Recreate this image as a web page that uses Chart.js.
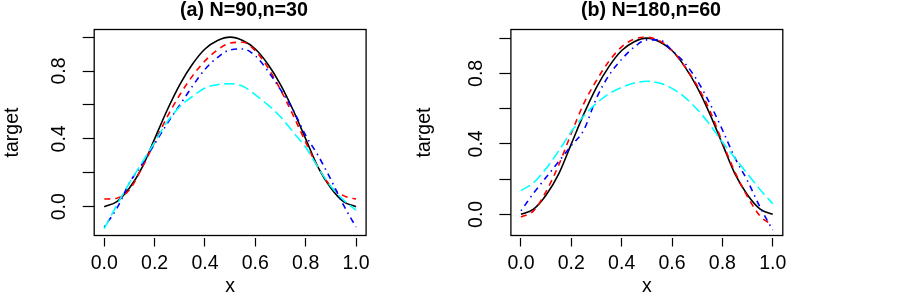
<!DOCTYPE html>
<html>
<head>
<meta charset="utf-8">
<script src="https://cdn.jsdelivr.net/npm/chart.js@4/dist/chart.umd.min.js"></script>
<style>
  html, body { margin: 0; padding: 0; background: #fff; overflow: hidden; width: 903px; height: 293px; }
  .wrap { position: absolute; top: 0; }
</style>
</head>
<body>
<div class="wrap" style="left:0px;"><canvas id="c1" width="488" height="293"></canvas></div>
<div class="wrap" style="left:400px;"><canvas id="c2" width="502" height="293"></canvas></div>
<script>
// ---------- data ----------
const xs = [0, 0.05, 0.1, 0.15, 0.2, 0.25, 0.3, 0.35, 0.4, 0.45, 0.5, 0.55, 0.6, 0.65, 0.7, 0.75, 0.8, 0.85, 0.9, 0.95, 1.0];

const titleA = '(a) N=90,n=30';
const titleB = '(b) N=180,n=60';

const targetA = [0, 0.03, 0.11, 0.23, 0.40, 0.57, 0.72, 0.84, 0.93, 0.98, 1.0, 0.98, 0.93, 0.84, 0.72, 0.57, 0.40, 0.23, 0.11, 0.03, 0];
const redA    = [0.045, 0.05, 0.10, 0.23, 0.38, 0.53, 0.66, 0.77, 0.86, 0.925, 0.965, 0.97, 0.92, 0.82, 0.69, 0.54, 0.38, 0.23, 0.12, 0.065, 0.045];
const blueA   = [-0.12, -0.01, 0.14, 0.25, 0.37, 0.49, 0.60, 0.71, 0.81, 0.88, 0.925, 0.93, 0.89, 0.80, 0.69, 0.57, 0.42, 0.30, 0.16, 0.01, -0.12];
const cyanA   = [-0.13, 0.01, 0.14, 0.26, 0.38, 0.50, 0.59, 0.65, 0.70, 0.72, 0.725, 0.71, 0.66, 0.60, 0.53, 0.44, 0.35, 0.23, 0.12, 0.04, -0.02];

const targetB = [0, 0.03, 0.11, 0.23, 0.40, 0.57, 0.72, 0.84, 0.93, 0.98, 1.0, 0.98, 0.93, 0.84, 0.72, 0.57, 0.40, 0.23, 0.11, 0.03, 0];
const redB    = [-0.015, 0.02, 0.13, 0.28, 0.46, 0.63, 0.76, 0.87, 0.95, 0.995, 1.005, 0.985, 0.93, 0.84, 0.73, 0.59, 0.41, 0.24, 0.10, -0.01, -0.06];
const blueB   = [0.02, 0.12, 0.21, 0.30, 0.39, 0.48, 0.66, 0.79, 0.88, 0.95, 0.99, 0.99, 0.93, 0.86, 0.76, 0.63, 0.48, 0.32, 0.19, 0.04, -0.09];
const cyanB   = [0.135, 0.18, 0.26, 0.36, 0.47, 0.56, 0.63, 0.685, 0.72, 0.745, 0.755, 0.745, 0.715, 0.665, 0.595, 0.51, 0.41, 0.32, 0.23, 0.14, 0.06];

const xTicks = [0, 0.2, 0.4, 0.6, 0.8, 1.0];
const xTickLabels = ['0.0', '0.2', '0.4', '0.6', '0.8', '1.0'];
const yTicks = [0, 0.2, 0.4, 0.6, 0.8, 1.0];
const yTickLabels = ['0.0', '', '0.4', '', '0.8', ''];

// ---------- styling ----------
const FAM = '"Liberation Sans", Arial, Helvetica, sans-serif';
const tickFont = { family: FAM, size: 19.5 };
const titleFont = { family: FAM, size: 19.7, weight: 'bold' };

Chart.defaults.color = '#000';
Chart.defaults.font.family = FAM;

const boxPlugin = {
  id: 'rbox',
  afterDatasetsDraw(chart) {
    const { ctx, chartArea: a } = chart;
    ctx.save();
    ctx.strokeStyle = '#000';
    ctx.lineWidth = 1.3;
    ctx.setLineDash([]);
    ctx.strokeRect(a.left, a.top, a.right - a.left, a.bottom - a.top);
    ctx.restore();
  }
};

function pts(arr) { return xs.map((x, i) => ({ x: x, y: arr[i] })); }

function line(arr, color, dash) {
  return {
    data: pts(arr),
    borderColor: color,
    borderWidth: 1.6,
    borderDash: dash,
    borderCapStyle: 'butt',
    pointRadius: 0,
    fill: false,
    cubicInterpolationMode: 'monotone'
  };
}

function makeChart(id, cfg) {
  return new Chart(document.getElementById(id), {
    type: 'line',
    data: {
      datasets: [
        line(cfg.cyan, '#00FFFF', [10.5, 4.5]),
        line(cfg.blue, '#0000FF', [1.5, 4.5, 6, 4.5]),
        line(cfg.red, '#FF0000', [6, 5]),
        line(cfg.target, '#000000', [])
      ]
    },
    options: {
      responsive: false,
      animation: false,
      devicePixelRatio: 1,
      layout: { padding: 0 },
      plugins: {
        legend: { display: false },
        tooltip: { enabled: false },
        title: {
          display: true,
          text: cfg.title,
          font: titleFont,
          color: '#000',
          padding: { top: -1.1, bottom: 6.96 }
        }
      },
      scales: {
        x: {
          type: 'linear',
          min: -0.04, max: 1.04,
          afterBuildTicks: s => { s.ticks = xTicks.map(v => ({ value: v })); },
          afterFit: s => { s.height = 57.5; },
          grid: {
            drawOnChartArea: false, drawTicks: true, tickLength: 11,
            tickColor: '#000', tickWidth: 1.2,
            tickBorderDash: [9, 30], tickBorderDashOffset: -2
          },
          border: { display: false },
          ticks: {
            font: tickFont, color: '#000', padding: 5.8,
            maxRotation: 0, minRotation: 0, autoSkip: false,
            callback: (v, i) => xTickLabels[i]
          },
          title: { display: true, text: 'x', font: tickFont, color: '#000', padding: { top: 0, bottom: -5 } }
        },
        y: {
          type: 'linear',
          position: 'left',
          min: cfg.ymin, max: cfg.ymax,
          afterBuildTicks: s => { s.ticks = yTicks.map(v => ({ value: v })); },
          afterFit: s => { s.width = cfg.yW; },
          grid: { drawOnChartArea: false, drawTicks: true, tickLength: 11.5, tickColor: '#000', tickWidth: 1.2 },
          border: { display: false },
          ticks: {
            font: tickFont, color: '#000', padding: 9.65,
            minRotation: 90, maxRotation: 90, crossAlign: 'center', autoSkip: false,
            callback: (v, i) => yTickLabels[i]
          },
          title: { display: true, text: 'target', font: tickFont, color: '#000', padding: { top: cfg.yTitlePad, bottom: 0 } }
        },
        yR: {
          type: 'linear',
          position: 'right',
          display: true,
          afterFit: s => { s.width = cfg.rightW; },
          grid: { display: false },
          border: { display: false },
          ticks: { display: false }
        }
      }
    },
    plugins: [boxPlugin]
  });
}

makeChart('c1', {
  title: titleA, target: targetA, red: redA, blue: blueA, cyan: cyanA,
  ymin: -0.17, ymax: 1.045, yW: 94.2, rightW: 121.9, yTitlePad: 1.4
});
makeChart('c2', {
  title: titleB, target: targetB, red: redB, blue: blueB, cyan: cyanB,
  ymin: -0.12, ymax: 1.049, yW: 110.9, rightW: 119.2, yTitlePad: 12.6
});
</script>
</body>
</html>
